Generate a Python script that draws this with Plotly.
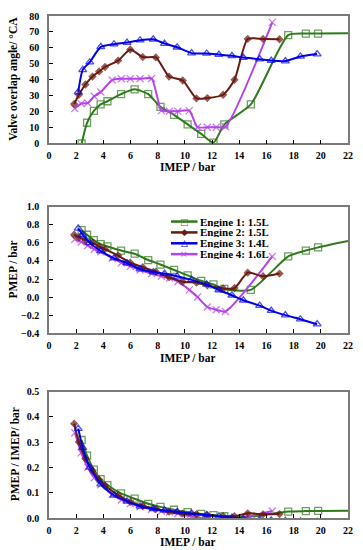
import plotly.graph_objects as go

# ---------------- data ----------------
names = ["Engine 1: 1.5L", "Engine 2: 1.5L", "Engine 3: 1.4L", "Engine 4: 1.6L"]

e1_imep = [2.4, 2.8, 3.3, 3.8, 4.3, 5.3, 6.3, 7.3, 8.2, 9.2, 10.2, 11.2, 12.1, 12.9, 14.85, 17.6, 18.9, 19.8, 22.0]
e1_voa = [0, 13, 20.5, 24.5, 26.5, 31, 34, 31, 23, 18, 12, 6, 0.5, 12, 24.5, 68, 69, 69, 69.2]
e1_pmep = [0.74, 0.69, 0.63, 0.585, 0.56, 0.515, 0.48, 0.41, 0.36, 0.30, 0.24, 0.18, 0.14, 0.09, 0.08, 0.45, 0.515, 0.55, 0.62]

e2_imep = [1.85, 2.2, 2.68, 3.2, 3.69, 4.12, 5.09, 5.98, 6.9, 7.86, 8.83, 9.84, 10.85, 11.65, 12.81, 13.65, 14.62, 15.75, 16.96]
e2_voa = [24.8, 30.6, 37, 42, 45.2, 48, 52, 59, 54.2, 54, 42, 39.5, 28.3, 28.5, 30.6, 40, 65.6, 65.6, 65.4]
e2_pmep = [0.69, 0.66, 0.63, 0.60, 0.56, 0.53, 0.46, 0.38, 0.33, 0.28, 0.22, 0.17, 0.16, 0.13, 0.095, 0.10, 0.27, 0.23, 0.26]

e3_imep = [2.15, 2.48, 3.0, 3.81, 4.78, 5.74, 6.7, 7.67, 8.5, 9.43, 10.49, 11.6, 12.5, 13.46, 14.3, 15.5, 16.35, 17.39, 18.5, 19.73]
e3_voa = [32.3, 46.2, 51, 60.6, 62.3, 63.3, 64.8, 65.4, 62.7, 60.4, 56.7, 56.5, 55.8, 55, 53.9, 52.9, 52, 51.7, 54.6, 56.1]
e3_pmep = [0.76, 0.69, 0.60, 0.51, 0.43, 0.377, 0.31, 0.275, 0.26, 0.23, 0.19, 0.14, 0.078, 0.02, -0.035, -0.095, -0.15, -0.2, -0.245, -0.3]

e4_imep = [1.9, 2.37, 2.85, 3.33, 3.81, 4.65, 5.33, 5.98, 6.7, 7.55, 8.27, 8.87, 9.48, 10.32, 10.93, 11.65, 12.3, 12.98, 16.43]
e4_voa = [21.9, 25, 25.4, 29.6, 32.3, 39.8, 40.6, 40.6, 40.6, 40.8, 20.6, 20.3, 20.3, 20.6, 10.2, 10.2, 10.2, 10.5, 76]
e4_pmep = [0.64, 0.61, 0.57, 0.53, 0.50, 0.43, 0.38, 0.34, 0.30, 0.26, 0.23, 0.21, 0.17, 0.08, 0.0, -0.11, -0.14, -0.16, 0.45]

x_ticks = list(range(0, 23, 2))
voa_ticks = list(range(0, 81, 10))
pmep_ticks = [-0.4, -0.2, 0.0, 0.2, 0.4, 0.6, 0.8, 1.0]
ratio_ticks = [0.0, 0.1, 0.2, 0.3, 0.4, 0.5]

# ---------------- style ----------------
W, H = 363, 550
ML, MR, MT, MB = 49, 10, 10, 32
PW = W - ML - MR
PH = H - MT - MB


def px_x(p):
    return (p - ML) / PW


def px_y(p):
    return (H - MB - p) / PH


colors = ["#2f7a1c", "#6a1a10", "#0000e8", "#b444ec"]
symbols = ["square-open", "diamond", "triangle-up-open", "x-thin-open"]
msizes = [7, 5, 7, 7]
serif = "Liberation Serif"

engines = [
    (e1_imep, e1_voa, e1_pmep),
    (e2_imep, e2_voa, e2_pmep),
    (e3_imep, e3_voa, e3_pmep),
    (e4_imep, e4_voa, e4_pmep),
]
draw_order = [0, 3, 1, 2]

fig = go.Figure()

for row, axis in enumerate(["", "2", "3"]):
    for i in draw_order:
        imep, voa, pmep = engines[i]
        if row == 0:
            yv = voa
        elif row == 1:
            yv = pmep
        else:
            yv = [p / x for p, x in zip(pmep, imep)]
        sizes = [msizes[i]] * len(imep)
        if i == 0:
            sizes[-1] = 0
        fig.add_trace(go.Scatter(
            x=imep, y=yv, mode="lines+markers", name=names[i],
            showlegend=False,
            line=dict(color=colors[i], width=2, shape="spline", smoothing=0.6),
            marker=dict(symbol=symbols[i], size=sizes, color=colors[i],
                        line=dict(color=colors[i], width=1.3)),
            xaxis="x" + axis, yaxis="y" + axis,
        ))

domains = [
    [px_y(139), px_y(10)],
    [px_y(331), px_y(203)],
    [px_y(518), px_y(390)],
]
yranges = [[0, 80], [-0.4, 1.0], [0, 0.5]]
yticks = [voa_ticks, pmep_ticks, ratio_ticks]
yfmt = ["d", ".1f", ".1f"]

tickfont = dict(family=serif, size=10, color="black", weight="bold")
layout = {}
for k, axis in enumerate(["", "2", "3"]):
    layout["xaxis" + axis] = dict(
        domain=[0, 1], range=[0, 22], tickvals=x_ticks, anchor="y" + axis,
        showline=True, mirror=True, linecolor="#7a7a7a", linewidth=1.5,
        ticks="inside", ticklen=4, tickcolor="black", tickwidth=1,
        showgrid=False, zeroline=False, tickfont=tickfont, ticklabelstandoff=2,
    )
    layout["yaxis" + axis] = dict(
        domain=domains[k], range=yranges[k], tickvals=yticks[k], tickformat=yfmt[k],
        anchor="x" + axis,
        showline=True, mirror=True, linecolor="#7a7a7a", linewidth=1.5,
        ticks="inside", ticklen=4, tickcolor="black", tickwidth=1,
        showgrid=False, zeroline=False, tickfont=tickfont, ticklabelstandoff=6,
    )

fig.update_layout(
    width=W, height=H,
    margin=dict(l=ML, r=MR, t=MT, b=MB),
    paper_bgcolor="white", plot_bgcolor="white",
    showlegend=False,
    **layout,
)

title_font = dict(family=serif, size=11.5, color="black", weight="bold")
ann = []
# x titles
for ypix in [162.5, 355.5, 542]:
    ann.append(dict(text="IMEP / bar", x=px_x(190), y=px_y(ypix), xref="paper", yref="paper",
                    showarrow=False, font=title_font, xanchor="center", yanchor="middle",
                    height=11))
# y titles
for txt, xpix, ypix in [("Valve overlap angle/ °CA", 13, 74), ("PMEP / bar", 12, 267),
                        ("PMEP / IMEP/ bar", 14, 454)]:
    ann.append(dict(text=txt, x=px_x(xpix), y=px_y(ypix), xref="paper", yref="paper",
                    showarrow=False, font=title_font, textangle=-90,
                    xanchor="center", yanchor="middle"))

# legend (drawn manually for compact spacing)
shapes = []
leg_rows = [218, 229, 240, 251]
leg_syms = ["□", "◆", "△", "×"]
for i in range(4):
    yp = px_y(leg_rows[i])
    shapes.append(dict(type="line", xref="paper", yref="paper",
                       x0=px_x(173), x1=px_x(200), y0=yp, y1=yp,
                       line=dict(color=colors[i], width=2.5)))
    ann.append(dict(text=leg_syms[i], x=px_x(186.5), y=yp, xref="paper", yref="paper",
                    showarrow=False, xanchor="center", yanchor="middle",
                    font=dict(family="DejaVu Sans", size=9, color=colors[i]),
                    height=10, borderpad=0))
    ann.append(dict(text=names[i], x=px_x(202), y=yp, xref="paper", yref="paper",
                    showarrow=False, xanchor="left", yanchor="middle", height=10,
                    borderpad=0,
                    font=dict(family=serif, size=11, color="black", weight="bold")))

fig.update_layout(annotations=ann, shapes=shapes)

fig.write_html("out.html", config={"displayModeBar": False},
               post_script="document.body.style.margin='0';document.body.style.padding='0';")
